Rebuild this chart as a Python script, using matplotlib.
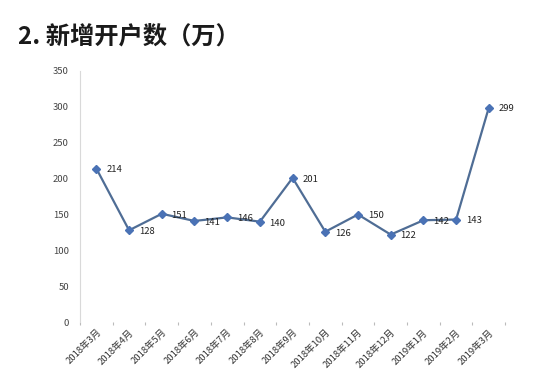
"""New account openings per month, 2018-03 to 2019-03 (line chart with labels)."""

import matplotlib
matplotlib.use("Agg")
import matplotlib.pyplot as plt

plt.rcParams["font.family"] = ["Noto Sans CJK SC", "DejaVu Sans"]

months = [
    "2018年3月", "2018年4月", "2018年5月", "2018年6月", "2018年7月",
    "2018年8月", "2018年9月", "2018年10月", "2018年11月", "2018年12月",
    "2019年1月", "2019年2月", "2019年3月",
]
new_accounts = [214, 128, 151, 141, 146, 140, 201, 126, 150, 122, 142, 143, 299]
y_ticks = [0, 50, 100, 150, 200, 250, 300, 350]

LINE = "#4f6d95"
MARK = "#4a72b5"

fig = plt.figure(figsize=(5.5, 3.9), dpi=100)
ax = fig.add_axes([0.1455, 0.174, 0.773, 0.644])

x = list(range(len(months)))
ax.plot(x, new_accounts, color=LINE, linewidth=1.6, zorder=2)
ax.plot(x, new_accounts, linestyle="none", marker="D", markersize=4.5,
        color=MARK, zorder=3)
for xi, v in zip(x, new_accounts):
    ax.annotate(str(v), (xi, v), xytext=(7, -1), textcoords="offset points",
                ha="left", va="center", fontsize=6.8, color="#222222")

ax.set_xlim(-0.5, len(months) - 0.5)
ax.set_ylim(0, 350)
ax.set_yticks(y_ticks)
ax.set_xticks(x)
ax.set_xticklabels(months, rotation=45, ha="right", va="top",
                   rotation_mode="anchor", fontsize=6.8, color="#333333")
ax.tick_params(axis="y", length=0, labelsize=6.8, labelcolor="#444444", pad=8)
ax.tick_params(axis="x", length=0, pad=4)

# small tick marks at category boundaries
ax.set_xticks([i - 0.5 for i in range(len(months) + 1)], minor=True)
ax.tick_params(axis="x", which="minor", length=2, color="#bbbbbb", width=0.8)

for side in ("top", "right", "bottom"):
    ax.spines[side].set_visible(False)
ax.spines["left"].set_color("#d9d9d9")
ax.spines["left"].set_linewidth(0.8)

title = "2. 新增开户数（万）"
fig.text(0.033, 0.905, title, fontsize=17.5, fontweight="bold",
         ha="left", va="center", color="#1a1a1a")

fig.savefig("out.png", dpi=100)
